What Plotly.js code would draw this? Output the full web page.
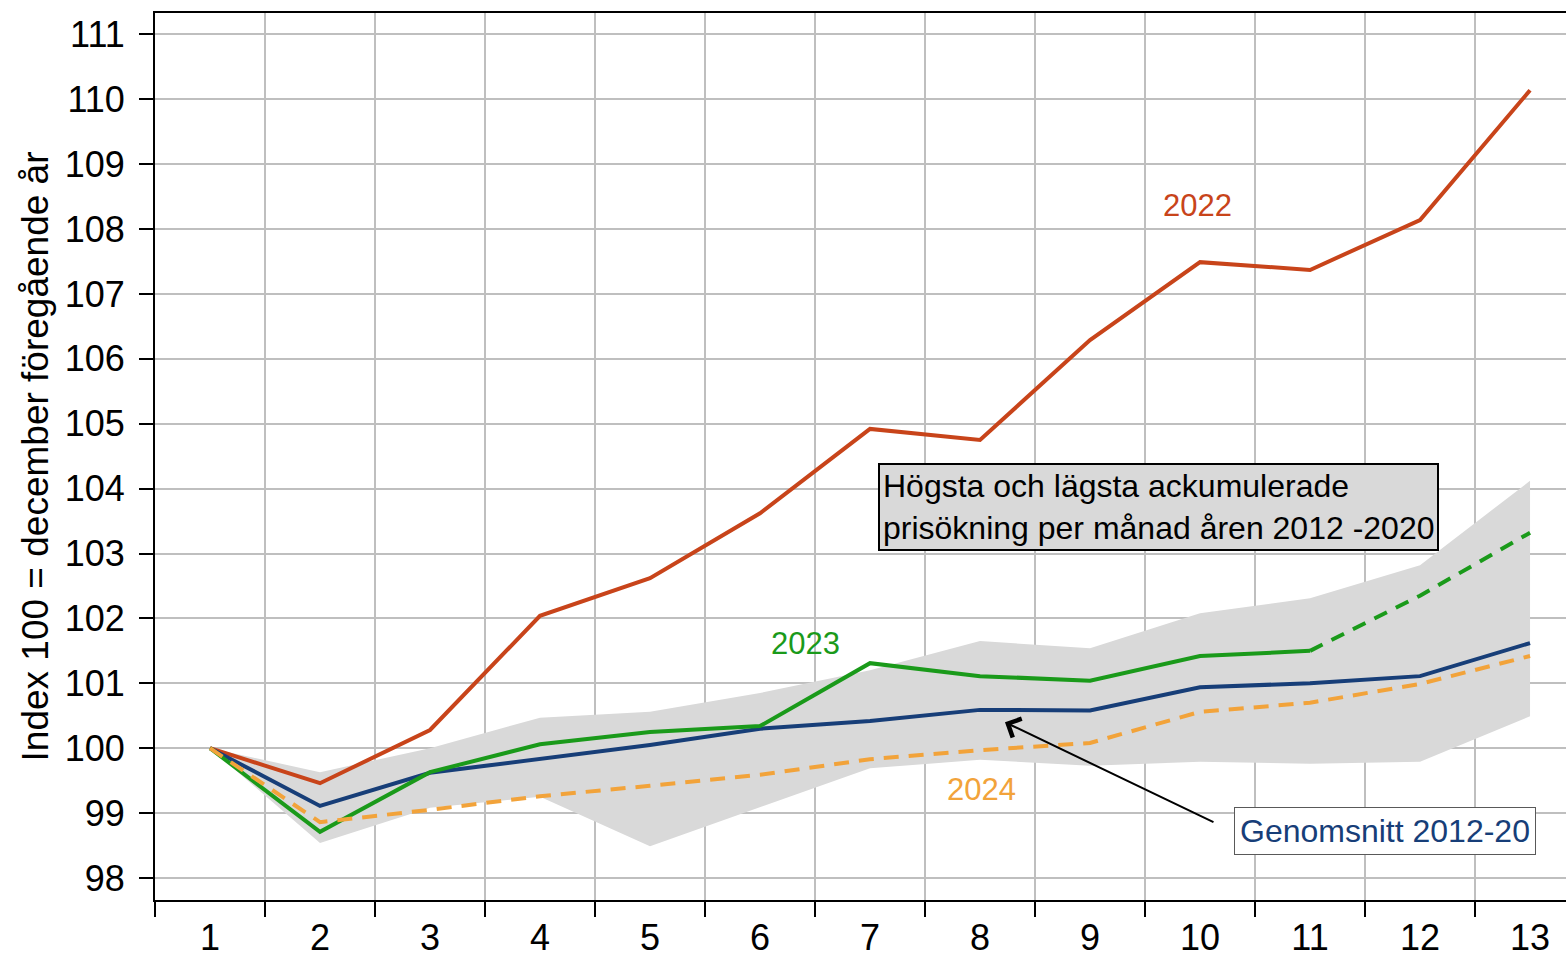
<!DOCTYPE html>
<html>
<head>
<meta charset="utf-8">
<script src="https://cdn.plot.ly/plotly-3.0.1.min.js"></script>
<style>html,body{margin:0;padding:0;background:#fff;}#chart{width:1566px;height:957px;}</style>
</head>
<body>
<div id="chart"></div>
<script>
const months = [1,2,3,4,5,6,7,8,9,10,11,12,13];
const monthLabels = ['1','2','3','4','5','6','7','8','9','10','11','12','13'];
const boundaries = [0.5,1.5,2.5,3.5,4.5,5.5,6.5,7.5,8.5,9.5,10.5,11.5,12.5];
const yTicks = [98,99,100,101,102,103,104,105,106,107,108,109,110,111];

const y2022 = [100, 99.46, 100.28, 102.04, 102.62, 103.62, 104.92, 104.75, 106.29, 107.49, 107.37, 108.14, 110.14];
const y2023 = [100, 98.71, 99.63, 100.06, 100.25, 100.34, 101.31, 101.11, 101.04, 101.42, 101.50];
const months2023f = [11, 12, 13];
const y2023f = [101.50, 102.35, 103.32];
const y2024 = [100, 98.86, 99.05, 99.26, 99.42, 99.59, 99.83, 99.97, 100.08, 100.56, 100.70, 100.99, 101.42];
const yAvg = [100, 99.11, 99.62, 99.83, 100.05, 100.30, 100.42, 100.59, 100.58, 100.94, 101.00, 101.11, 101.62];
const bandHigh = [100, 99.63, 100.00, 100.47, 100.56, 100.85, 101.20, 101.65, 101.54, 102.08, 102.31, 102.82, 104.12];
const bandLow = [100, 98.54, 99.08, 99.25, 98.49, 99.09, 99.69, 99.82, 99.73, 99.79, 99.76, 99.79, 100.49];

const cRed = '#C8441A', cGreen = '#1A9A1A', cBlue = '#173E78', cOrange = '#F2A33A', cBand = '#D9D9D9';
const cGrid = '#BFBFBF';
const FONT = '"Liberation Sans", Arial, sans-serif';

const traces = [
  {x: months, y: bandHigh, mode: 'lines', line: {width: 0, color: cBand}, hoverinfo: 'skip', showlegend: false},
  {x: months, y: bandLow, mode: 'lines', line: {width: 0, color: cBand}, fill: 'tonexty', fillcolor: cBand, hoverinfo: 'skip', showlegend: false},
  {x: months2023f, y: y2023f, mode: 'lines', line: {color: cGreen, width: 4, dash: '14px,10px'}, showlegend: false},
  {x: months, y: y2022, mode: 'lines', line: {color: cRed, width: 4}, showlegend: false},
  {x: months, y: yAvg, mode: 'lines', line: {color: cBlue, width: 4}, showlegend: false},
  {x: months.slice(0, y2023.length), y: y2023, mode: 'lines', line: {color: cGreen, width: 4}, showlegend: false},
  {x: months, y: y2024, mode: 'lines', line: {color: cOrange, width: 4, dash: '15px,10px'}, showlegend: false}
];

const layout = {
  width: 1566, height: 957,
  margin: {l: 155, r: 0, t: 13, b: 57},
  paper_bgcolor: '#fff', plot_bgcolor: '#fff',
  font: {family: FONT, color: '#000'},
  showlegend: false,
  xaxis: {
    range: [0.5, 13.327], tickmode: 'array', tickvals: months, ticktext: monthLabels,
    showgrid: false, zeroline: false,
    showline: true, linecolor: '#000', linewidth: 2, mirror: true,
    ticks: 'outside', ticklen: 5, tickcolor: 'rgba(0,0,0,0)',
    tickfont: {size: 36, family: FONT, color: '#000'},
    minor: {
      tickmode: 'array', tickvals: boundaries,
      ticks: 'outside', ticklen: 15, tickwidth: 2, tickcolor: '#000',
      showgrid: true, gridcolor: cGrid, gridwidth: 2
    }
  },
  yaxis: {
    range: [97.66, 111.33], tickmode: 'array', tickvals: yTicks,
    ticks: 'outside', ticklen: 14, tickwidth: 2, tickcolor: '#000',
    showgrid: true, gridcolor: cGrid, gridwidth: 2,
    showline: true, linecolor: '#000', linewidth: 2, zeroline: false,
    tickfont: {size: 36, family: FONT, color: '#000'},
    ticklabelstandoff: 7,
    title: {text: 'Index 100 = december föregående år', font: {size: 37, family: FONT, color: '#000'}, standoff: 5}
  },
  annotations: [
    {x: 9.98, y: 108.37, xref: 'x', yref: 'y', text: '2022', showarrow: false, font: {size: 31, color: cRed, family: FONT}},
    {x: 6.41, y: 101.62, xref: 'x', yref: 'y', text: '2023', showarrow: false, font: {size: 31, color: cGreen, family: FONT}},
    {x: 8.01, y: 99.36, xref: 'x', yref: 'y', text: '2024', showarrow: false, font: {size: 31, color: cOrange, family: FONT}},
    {x: 9.627, y: 103.72, xref: 'x', yref: 'y', text: 'Högsta och lägsta ackumulerade<br>prisökning per månad åren 2012 -2020',
     showarrow: false, align: 'left', font: {size: 32, color: '#000', family: FONT},
     bgcolor: cBand, bordercolor: '#000', borderwidth: 2, borderpad: 3},
    {x: 8.227, y: 100.40, xref: 'x', yref: 'y', ax: 10.136, ay: 98.85, axref: 'x', ayref: 'y', text: '',
     showarrow: true, arrowhead: 4, arrowsize: 2, arrowwidth: 2, arrowcolor: '#000'},
    {x: 11.68, y: 98.72, xref: 'x', yref: 'y', text: 'Genomsnitt 2012-20', showarrow: false,
     font: {size: 32, color: cBlue, family: FONT}, bgcolor: '#fff', bordercolor: '#595959', borderwidth: 1, borderpad: 5}
  ]
};

Plotly.newPlot('chart', traces, layout, {displayModeBar: false, staticPlot: true});
</script>
</body>
</html>
